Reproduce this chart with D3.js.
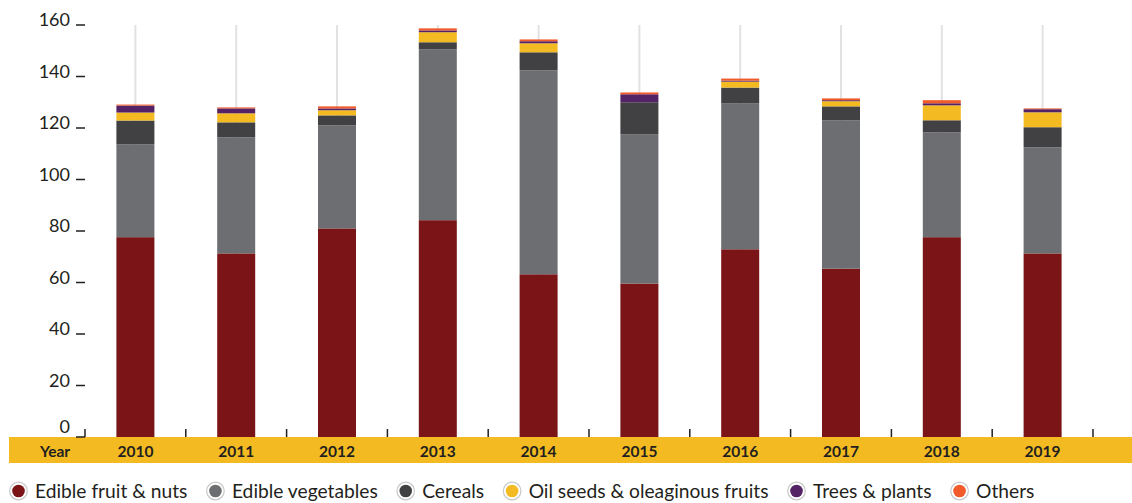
<!DOCTYPE html>
<html><head><meta charset="utf-8">
<script src="https://cdn.jsdelivr.net/npm/d3@7"></script>
<style>
html,body{margin:0;padding:0;background:#fff;}
svg{display:block;font-family:Lato, "Noto Sans", sans-serif;}
</style></head>
<body><svg id="chart" width="1132" height="503"></svg>
<script>
const years = ["2010","2011","2012","2013","2014","2015","2016","2017","2018","2019"];
const seriesNames = ["Edible fruit & nuts","Edible vegetables","Cereals","Oil seeds & oleaginous fruits","Trees & plants","Others"];
const fruitNuts   = [77.6, 71.3, 81.0, 84.2, 63.2, 59.6, 72.9, 65.4, 77.6, 71.3];
const vegetables  = [36.0, 45.1, 40.0, 66.4, 79.2, 58.0, 56.6, 57.6, 40.7, 41.2];
const cereals     = [ 9.3,  5.8,  3.9,  2.7,  7.0, 12.4,  6.2,  5.4,  4.7,  7.8];
const oilSeeds    = [ 3.1,  3.5,  2.0,  3.9,  3.5,  0.0,  2.3,  2.0,  5.8,  5.8];
const treesPlants = [ 2.7,  1.9,  0.7,  0.7,  0.8,  3.1,  0.4,  0.4,  0.8,  1.2];
const others      = [ 0.4,  0.4,  0.8,  0.8,  0.7,  0.7,  0.8,  0.7,  1.2,  0.3];
const yTicks = [0,20,40,60,80,100,120,140,160];
const colors = ["#7a1417","#6d6e71","#414042","#f3bb21","#532365","#f15a2b"];

const seriesValues = [fruitNuts, vegetables, cereals, oilSeeds, treesPlants, others];
const table = years.map((y,i)=>{
  const row = {year:y};
  seriesNames.forEach((s,j)=>row[s]=seriesValues[j][i]);
  return row;
});

const svg = d3.select("#chart");
const x0 = 85, x1 = 1093, yTop = 25, yBot = 437;
const x = d3.scaleBand().domain(years).range([x0,x1]).paddingInner(0.623).paddingOuter(0.3115);
const y = d3.scaleLinear().domain([0,160]).range([yBot,yTop]);
const textColor = "#231f20";

// yellow band
svg.append("rect").attr("x",9).attr("y",yBot).attr("width",1132-9).attr("height",26).attr("fill","#f3bb21");

// grid lines at bar centers
svg.append("g").selectAll("line").data(years).join("line")
  .attr("x1",d=>x(d)+x.bandwidth()/2).attr("x2",d=>x(d)+x.bandwidth()/2)
  .attr("y1",y(160)).attr("y2",y(0))
  .attr("stroke","#e2e2e2").attr("stroke-width",2);

// stacked bars
const stack = d3.stack().keys(seriesNames)(table);
svg.append("g").selectAll("g").data(stack).join("g")
  .attr("fill",(d,i)=>colors[i])
  .selectAll("rect").data(d=>d).join("rect")
  .attr("x",d=>x(d.data.year)).attr("width",x.bandwidth())
  .attr("y",d=>y(d[1])).attr("height",d=>y(d[0])-y(d[1]));

// y axis ticks and labels
const yg = svg.append("g");
yg.selectAll("line").data(yTicks).join("line")
  .attr("x1",76).attr("x2",x0).attr("y1",d=>y(d)).attr("y2",d=>y(d))
  .attr("stroke",textColor).attr("stroke-width",1.5);
yg.selectAll("text").data(yTicks).join("text")
  .attr("x",70).attr("y",d=>d===0 ? y(d)-4 : y(d)+1).attr("text-anchor","end")
  .attr("font-size",18).attr("fill",textColor).text(d=>d);

// x axis ticks at band boundaries
const boundaries = years.map(d=>x(d)-x.step()*x.paddingInner()/2).concat([x1]);
svg.append("g").selectAll("line").data(boundaries).join("line")
  .attr("x1",d=>d).attr("x2",d=>d).attr("y1",yBot-8).attr("y2",yBot)
  .attr("stroke",textColor).attr("stroke-width",1.5);

// year labels
svg.append("g").selectAll("text").data(years).join("text")
  .attr("x",d=>x(d)+x.bandwidth()/2).attr("y",456.5).attr("text-anchor","middle")
  .attr("font-size",15.5).attr("font-weight",700).attr("fill",textColor).text(d=>d);
svg.append("text").attr("x",55).attr("y",456.5).attr("text-anchor","middle")
  .attr("font-size",15.5).attr("font-weight",700).attr("fill",textColor).text("Year");

// legend: fit the row between the left edge and x=1035
const lg = svg.append("g");
const legendStart = 18.5, legendEnd = 1035, textOff = 16.5, gap = 28;
const probe = lg.append("text").attr("font-size",18.5);
const widths = seriesNames.map(s=>{probe.text(s); return probe.node().getComputedTextLength();});
probe.remove();
const fixed = seriesNames.length*textOff + (seriesNames.length-1)*gap;
const scaleF = (legendEnd - legendStart - fixed) / d3.sum(widths);
const fs = 18.5*scaleF;
let cx = legendStart;
seriesNames.forEach((s,i)=>{
  lg.append("circle").attr("cx",cx).attr("cy",491).attr("r",8.8)
    .attr("fill","#fff").attr("stroke","#c8c8c8").attr("stroke-width",1.2);
  lg.append("circle").attr("cx",cx).attr("cy",491).attr("r",6.3).attr("fill",colors[i]);
  const t = lg.append("text").attr("x",cx+textOff).attr("y",497.5)
    .attr("font-size",fs).attr("fill",textColor).text(s);
  const w = t.node().getComputedTextLength();
  cx = cx + textOff + w + gap;
});
</script></body></html>
